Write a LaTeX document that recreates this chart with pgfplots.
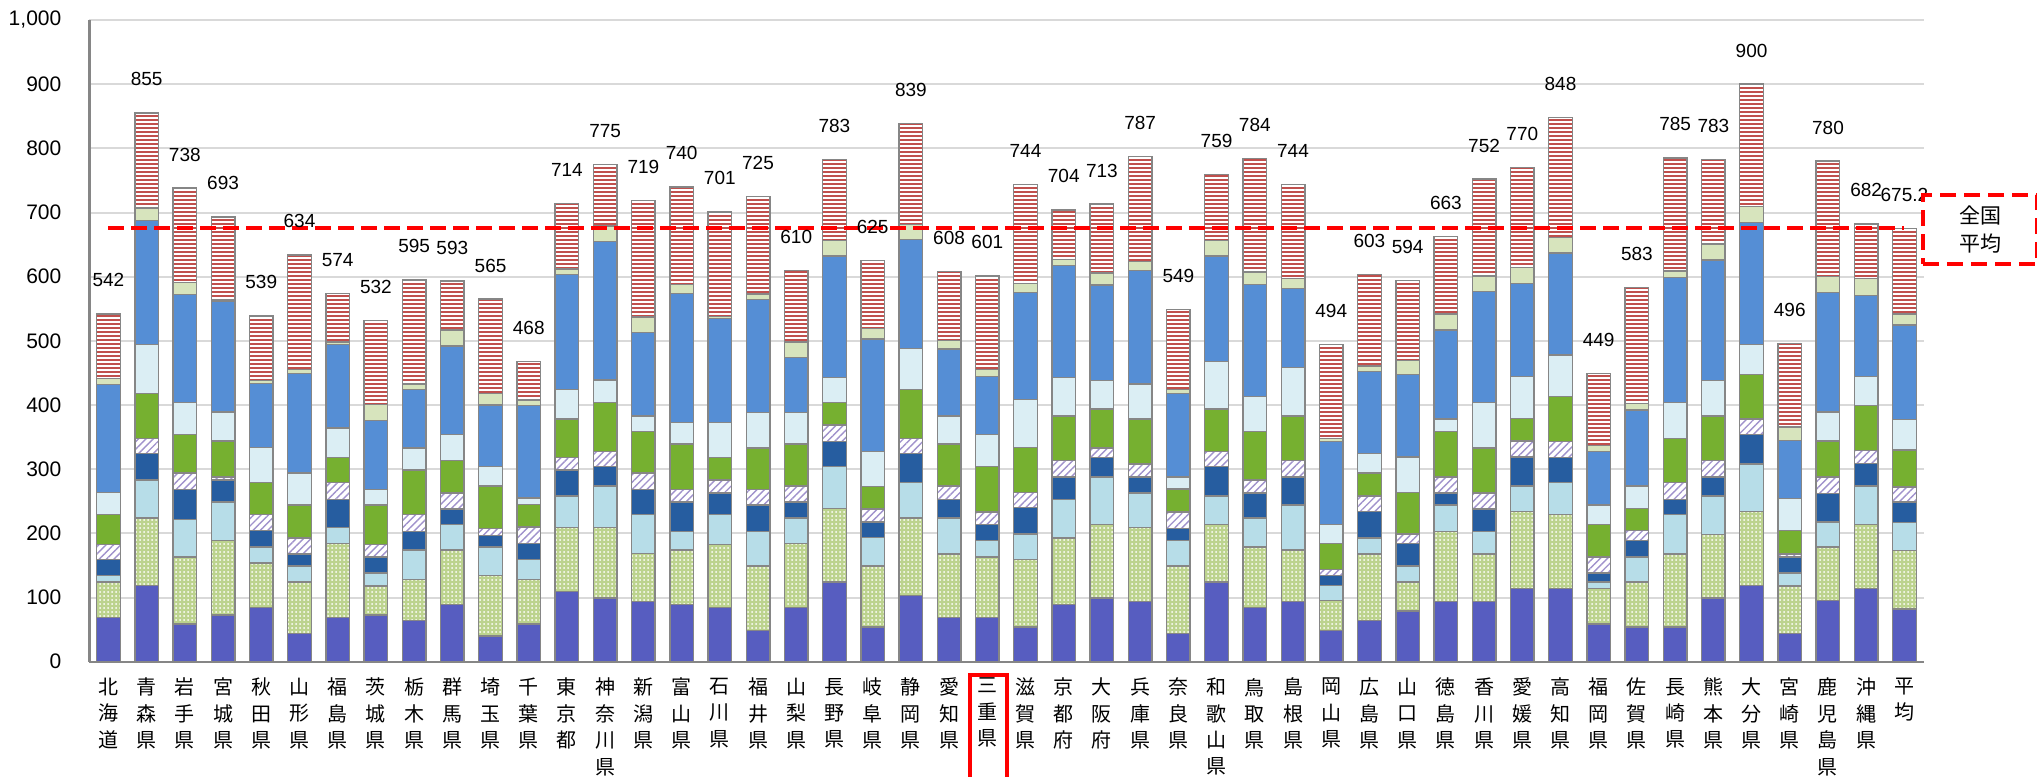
\documentclass[border=0pt]{standalone}
\usepackage{fontspec}
\setmainfont{Liberation Sans}
\newfontfamily\cjk{Noto Sans CJK JP}
\usepackage{pgfplots}
\pgfplotsset{compat=1.18}
\usepackage{pgfplotstable}
\usetikzlibrary{patterns.meta}

\definecolor{cIndigo}{RGB}{87,93,192}
\definecolor{cDot}{RGB}{188,211,142}
\definecolor{cLB}{RGB}{183,221,232}
\definecolor{cDB}{RGB}{38,93,160}
\definecolor{cHatch}{RGB}{160,146,204}
\definecolor{cGreen}{RGB}{118,176,48}
\definecolor{cPB}{RGB}{219,238,244}
\definecolor{cMB}{RGB}{85,142,213}
\definecolor{cPG}{RGB}{215,228,189}
\definecolor{cRed}{RGB}{192,80,77}
\definecolor{cEdge}{RGB}{134,134,134}
\definecolor{cGrid}{RGB}{217,217,217}

\pgfplotstableread{
x s1 s2 s3 s4 s5 s6 s7 s8 s9 s10 tot lab
0 69 55 10 25 24 46 35 168 9 101 542 542
1 119 105 59 41 24 70 76 194 19 148 855 855
2 59 104 59 46 26 60 50 168 19 147 738 738
3 73 116 60 34 5 56 45 173 2 129 693 693
4 84 70 25 25 25 50 55 100 4 101 539 539
5 44 80 25 19 25 51 50 155 6 179 634 634
6 69 115 25 44 26 39 46 130 4 76 574 574
7 73 45 20 25 20 61 24 108 25 131 532 532
8 64 64 46 29 26 70 34 91 9 162 595 595
9 89 85 40 24 25 51 40 138 25 76 593 593
10 40 94 45 18 11 66 30 96 18 147 565 565
11 59 69 31 25 26 35 10 144 9 60 468 468
12 109 100 49 41 19 60 46 179 9 102 714 714
13 99 110 65 30 24 76 35 216 24 96 775 775
14 94 75 60 39 26 65 24 130 24 182 719 719
15 89 85 29 46 19 71 34 201 14 152 740 740
16 84 99 46 34 20 35 55 162 3 163 701 701
17 49 100 54 41 24 65 55 176 9 152 725 725
18 84 100 40 25 25 65 49 86 24 112 610 610
19 124 115 65 39 26 35 39 189 24 127 783 783
20 54 95 45 24 20 35 55 175 16 106 625 625
21 103 121 55 45 24 76 64 170 23 158 839 839
22 69 99 56 29 21 65 44 104 14 107 608 608
23 69 94 26 25 19 71 50 90 11 146 601 601
24 54 105 40 41 24 70 75 166 14 155 744 744
25 89 104 60 35 26 69 60 174 10 77 704 704
26 99 115 74 30 15 61 44 149 19 107 713 713
27 94 115 54 25 20 70 55 177 14 163 787 787
28 44 105 40 19 25 36 19 130 6 125 549 549
29 124 90 44 46 24 66 74 164 24 103 759 759
30 84 95 45 39 20 76 54 175 19 177 784 784
31 94 80 70 44 26 69 75 124 15 147 744 744
32 49 46 24 15 10 40 30 129 5 146 494 494
33 64 104 25 41 24 36 30 128 9 142 603 603
34 79 45 25 35 15 65 55 129 21 125 594 594
35 94 109 41 19 25 71 19 139 25 121 663 663
36 94 74 35 35 25 70 71 173 24 151 752 752
37 114 120 40 45 25 35 65 145 25 156 770 770
38 114 115 50 39 25 70 65 159 24 187 848 848
39 59 55 10 14 25 51 30 84 9 112 449 449
40 54 70 39 26 15 35 35 118 10 181 583 583
41 54 114 61 24 26 69 56 195 10 176 785 785
42 99 99 60 30 26 69 55 188 25 132 783 783
43 119 115 74 46 24 70 46 190 25 191 900 900
44 44 74 20 25 5 36 50 91 21 130 496 496
45 95 84 39 44 26 56 45 186 25 180 780 780
46 114 100 60 35 20 70 45 127 26 85 682 682
47 82 91 44 32 23 58 47 148 17 133.2 675.2 675.2
}\datatable

\pgfplotstableread{
x y
0 675.2
47 675.2
}\avgline

\begin{document}
\begin{tikzpicture}[x=1pt,y=1pt]
\begin{axis}[
  at={(44.65pt,57.15pt)}, anchor=south west,
  scale only axis, width=917.1pt, height=320.85pt,
  xmin=-0.5, xmax=47.5, ymin=0, ymax=1000,
  ybar stacked, bar width=11.8pt,
  axis x line*=bottom, axis y line*=left,
  axis line style={-, draw=cEdge, line width=1.2pt},
  ytick={0,100,...,1000},
  ymajorgrids, grid style={draw=cGrid, line width=1pt},
  major tick length=0pt,
  xtick={0,...,47},
  xticklabels={{北\\海\\道},{青\\森\\県},{岩\\手\\県},{宮\\城\\県},{秋\\田\\県},{山\\形\\県},{福\\島\\県},{茨\\城\\県},{栃\\木\\県},{群\\馬\\県},{埼\\玉\\県},{千\\葉\\県},{東\\京\\都},{神\\奈\\川\\県},{新\\潟\\県},{富\\山\\県},{石\\川\\県},{福\\井\\県},{山\\梨\\県},{長\\野\\県},{岐\\阜\\県},{静\\岡\\県},{愛\\知\\県},{三\\重\\県},{滋\\賀\\県},{京\\都\\府},{大\\阪\\府},{兵\\庫\\県},{奈\\良\\県},{和\\歌\\山\\県},{鳥\\取\\県},{島\\根\\県},{岡\\山\\県},{広\\島\\県},{山\\口\\県},{徳\\島\\県},{香\\川\\県},{愛\\媛\\県},{高\\知\\県},{福\\岡\\県},{佐\\賀\\県},{長\\崎\\県},{熊\\本\\県},{大\\分\\県},{宮\\崎\\県},{鹿\\児\\島\\県},{沖\\縄\\県},{平\\均}},
  xticklabel style={font=\cjk\fontsize{10}{13.2}\selectfont, align=center, inner sep=0pt, anchor=north, yshift=-8pt},
  yticklabel style={font=\fontsize{10.5}{12}\selectfont, inner sep=0pt, anchor=east, xshift=-13.8pt, /pgf/number format/1000 sep={,}},
  /pgf/number format/assume math mode=true,
]
\addplot[fill=cIndigo, draw=cEdge, line width=0.7pt] table[x=x,y=s1]{\datatable};
\addplot[preaction={fill=cDot}, pattern={Dots[distance=2pt,radius=0.5pt]}, pattern color=white, draw=cEdge, line width=0.7pt] table[x=x,y=s2]{\datatable};
\addplot[fill=cLB, draw=cEdge, line width=0.7pt] table[x=x,y=s3]{\datatable};
\addplot[fill=cDB, draw=cEdge, line width=0.7pt] table[x=x,y=s4]{\datatable};
\addplot[preaction={fill=white}, pattern={Lines[angle=45,distance=2.6pt,line width=0.7pt]}, pattern color=cHatch, draw=cEdge, line width=0.7pt] table[x=x,y=s5]{\datatable};
\addplot[fill=cGreen, draw=cEdge, line width=0.7pt] table[x=x,y=s6]{\datatable};
\addplot[fill=cPB, draw=cEdge, line width=0.7pt] table[x=x,y=s7]{\datatable};
\addplot[fill=cMB, draw=cEdge, line width=0.7pt] table[x=x,y=s8]{\datatable};
\addplot[fill=cPG, draw=cEdge, line width=0.7pt] table[x=x,y=s9]{\datatable};
\addplot[preaction={fill=white}, pattern={Lines[angle=0,distance=2pt,line width=1.2pt]}, pattern color=cRed, draw=cEdge, line width=0.7pt] table[x=x,y=s10]{\datatable};
\end{axis}
\begin{axis}[
  at={(44.65pt,57.15pt)}, anchor=south west,
  scale only axis, width=917.1pt, height=320.85pt,
  xmin=-0.5, xmax=47.5, ymin=0, ymax=1000,
  axis lines=none, clip=false,
]
\addplot[color=red, line width=2pt, dash pattern=on 8pt off 3.5pt] table[x=x,y=y]{\avgline};
\addplot[draw=none, mark=none, nodes near coords, point meta=explicit symbolic,
  nodes near coords style={font=\fontsize{9.5}{10}\selectfont, text=black, inner sep=0pt, anchor=center, yshift=16.8pt}]
  table[x=x,y=tot,meta=lab]{\datatable};
\end{axis}
\node[draw=red, dash pattern=on 8pt off 4pt, line width=2.2pt, fill=white,
  minimum width=57pt, minimum height=34.5pt, anchor=north west, inner sep=0pt,
  font=\cjk\fontsize{10.5}{14}\selectfont, align=center] at (960.5,291.5) {全国\\平均};
\draw[red, line width=1.7pt] (485,-5) rectangle (503.5,50.5);
\pgfresetboundingbox
\path[use as bounding box] (0,0) rectangle (1018.5,388);
\end{tikzpicture}
\end{document}
